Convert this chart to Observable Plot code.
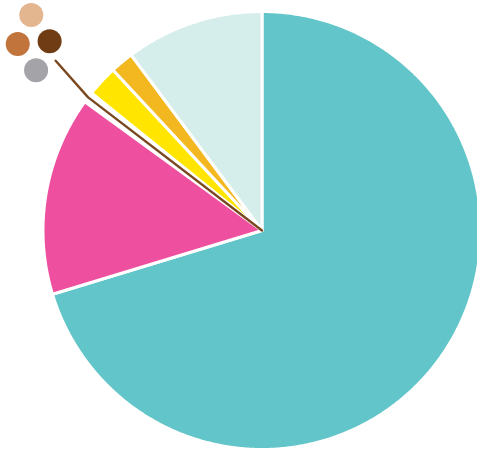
<!DOCTYPE html>
<html>
<head>
<meta charset="utf-8">
<script src="https://cdn.jsdelivr.net/npm/d3@7"></script>
<script src="https://cdn.jsdelivr.net/npm/@observablehq/plot@0.6"></script>
<style>
  html, body { margin: 0; padding: 0; background: #ffffff; }
  #chart svg { display: block; }
</style>
</head>
<body>
<div id="chart"></div>
<script>
// ---- data ----
const categories = ["Teal", "Pink", "Brown", "Yellow", "Orange", "Mint"];
const shares     = [70.3, 14.7, 0.8, 2.3, 1.7, 10.2];   // percent
const sliceColors = ["#62c5c9", "#ee509f", "#7a4820", "#ffe500", "#f3b81f", "#d6eeeb"];

// small categories shown as dots at the end of the brown leader
const dotCategories = ["Beige", "Dark brown", "Gray", "Copper"];
const dotColors     = ["#e3b690", "#6f3c14", "#a3a3a8", "#c1743b"];

// ---- layout ----
const W = 477, H = 455;
const CX = 261.5, CY = 230, R = 219;
const deg = Math.PI / 180;

const data = categories.map((c, i) => ({category: c, share: shares[i]}));
const arcs = d3.pie().sort(null).value(d => d.share)(data);

// polygon points for each slice (angle 0 = north, clockwise; y axis points up)
const polyPts = [];
for (const a of arcs) {
  if (a.data.category === "Brown") continue; // drawn as a leader line
  const n = Math.max(2, Math.ceil((a.endAngle - a.startAngle) / (0.5 * deg)));
  polyPts.push({category: a.data.category, x: 0, y: 0});
  for (let k = 0; k <= n; k++) {
    const t = a.startAngle + (a.endAngle - a.startAngle) * k / n;
    polyPts.push({category: a.data.category, x: R * Math.sin(t), y: R * Math.cos(t)});
  }
}

// brown leader: from centre along the slice's mid angle, then out to the dot cluster
const brown = arcs.find(a => a.data.category === "Brown");
const mid = (brown.startAngle + brown.endAngle) / 2;
const clusterAngle = mid + 2 * deg;
const leader = [
  {x: 0, y: 0},
  {x: R * Math.sin(mid), y: R * Math.cos(mid)},
  {x: 1.22 * R * Math.sin(clusterAngle), y: 1.22 * R * Math.cos(clusterAngle)}
];

const cx0 = 1.35 * R * Math.sin(clusterAngle), cy0 = 1.35 * R * Math.cos(clusterAngle);
const tilt = -5 * deg, longHalf = 27.7, shortHalf = 16;
const dots = dotCategories.map((c, i) => {
  const ang = tilt + i * 90 * deg;
  const h = i % 2 ? shortHalf : longHalf;
  return {category: c, x: cx0 + h * Math.sin(ang), y: cy0 + h * Math.cos(ang)};
});

const chart = Plot.plot({
  width: W,
  height: H,
  margin: 0,
  x: {domain: [-CX, W - CX], axis: null},
  y: {domain: [CY - H, CY], axis: null},
  color: {domain: [...categories, ...dotCategories], range: [...sliceColors, ...dotColors]},
  marks: [
    Plot.line(polyPts, {
      x: "x", y: "y", z: "category",
      fill: "category",
      stroke: "#ffffff",
      strokeWidth: 3,
      strokeLinejoin: "round",
      curve: "linear-closed"
    }),
    Plot.line(leader, {x: "x", y: "y", stroke: "#7a4820", strokeWidth: 2.4, curve: "linear"}),
    Plot.dot(dots, {x: "x", y: "y", r: 12, fill: "category", stroke: "none"})
  ]
});

document.getElementById("chart").append(chart);
</script>
</body>
</html>
